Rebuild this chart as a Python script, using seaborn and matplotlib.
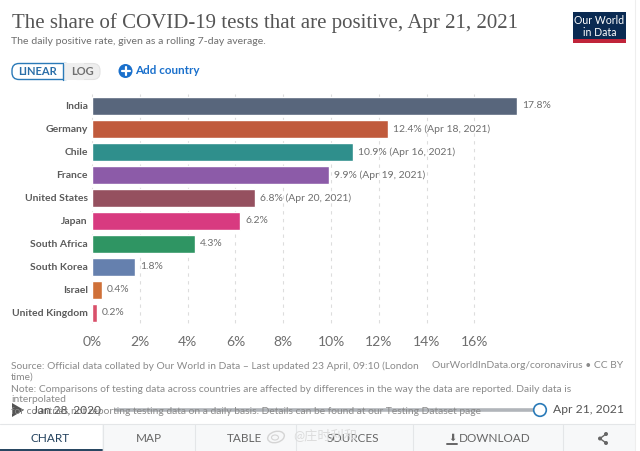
import matplotlib
matplotlib.use('Agg')
import matplotlib.pyplot as plt
import pandas as pd
import seaborn as sns
from matplotlib.patches import Circle, Ellipse, FancyBboxPatch, Rectangle

countries = ['India', 'Germany', 'Chile', 'France', 'United States', 'Japan',
             'South Africa', 'South Korea', 'Israel', 'United Kingdom']
positive_rate = [17.8, 12.4, 10.9, 9.9, 6.8, 6.2, 4.3, 1.8, 0.4, 0.2]
value_labels = ['17.8%', '12.4% (Apr 18, 2021)', '10.9% (Apr 16, 2021)', '9.9% (Apr 19, 2021)',
                '6.8% (Apr 20, 2021)', '6.2%', '4.3%', '1.8%', '0.4%', '0.2%']
bar_colors = ['#58667c', '#c05a3c', '#2f8f8c', '#8c5ba8', '#95505f', '#d83a80',
              '#2f9563', '#6580ae', '#cf7038', '#d9506a']
x_ticks = [0, 2, 4, 6, 8, 10, 12, 14, 16]

GREY = '#6e6e6e'
W, H = 640, 451

sns.set_theme(style='white')
plt.rcParams['font.family'] = ['Lato', 'Noto Sans CJK SC', 'DejaVu Sans']

fig = plt.figure(figsize=(6.4, 4.51), dpi=100)

# chart area placed in pixels: x=0 at 92px, 23.9px per percent, rows 23px high
ax = fig.add_axes([92 / W, 1 - 324.5 / H, 432 / W, 230 / H])
data = pd.DataFrame({'country': countries, 'rate': positive_rate})
sns.barplot(data=data, x='rate', y='country', hue='country', palette=bar_colors,
            legend=False, width=0.79, saturation=1, ax=ax, zorder=3)
ax.set_xlim(0, 432 / 23.9)
ax.set_ylim(9.5, -0.5)
ax.set_xlabel('')
ax.set_ylabel('')
for s in ax.spines.values():
    s.set_visible(False)
ax.patch.set_alpha(0)
ax.set_xticks(x_ticks)
ax.set_xticklabels([f'{t}%' for t in x_ticks], fontsize=10, color=GREY)
ax.tick_params(axis='x', length=0, pad=8.5)
ax.tick_params(axis='y', length=0, pad=3)
for label in ax.get_yticklabels():
    label.set_fontsize(7.5)
    label.set_fontweight('bold')
    label.set_color('#5b5b5b')
for t in x_ticks:
    ax.plot([t, t], [-0.5, 9.6], color='#dddddd', lw=0.8, ls=(0, (3, 4)), zorder=1, clip_on=False)
for i, (v, lab) in enumerate(zip(positive_rate, value_labels)):
    ax.annotate(lab, (v, i), xytext=(3.6, 0), textcoords='offset points', va='center',
                fontsize=7.45, color=GREY)

# page furniture, drawn in pixel coordinates
ui = fig.add_axes([0, 0, 1, 1], zorder=5)
ui.set_xlim(0, W)
ui.set_ylim(H, 0)
ui.axis('off')

ui.text(12, 23, 'The share of COVID-19 tests that are positive, Apr 21, 2021', fontsize=15,
        family='Liberation Serif', color='#555555', va='center')
ui.text(11, 41.5, 'The daily positive rate, given as a rolling 7-day average.', fontsize=7.55,
        color=GREY, va='center')

# logo
ui.add_patch(Rectangle((573, 12), 53, 27, color='#0a2a52', lw=0))
ui.add_patch(Rectangle((573, 39), 53, 3.5, color='#c0243a', lw=0))
ui.text(599.5, 20.5, 'Our World', fontsize=7.6, color='white', ha='center', va='center')
ui.text(599.5, 32, 'in Data', fontsize=7.6, color='white', ha='center', va='center')

# linear/log toggle
ui.add_patch(FancyBboxPatch((12, 63.5), 60, 16, boxstyle='round,pad=0,rounding_size=7',
                            fc='white', ec='#2a7ab8', lw=1))
ui.add_patch(FancyBboxPatch((70, 63.5), 30, 16, boxstyle='round,pad=0,rounding_size=7',
                            fc='#eeeeee', ec='#e2e2e2', lw=0.8))
ui.add_patch(Rectangle((63.5, 63), 20, 17, fc='#eeeeee', ec='none'))
ui.plot([63, 63], [63.5, 79.5], color='#2a7ab8', lw=1)
ui.text(37.5, 71.5, 'LINEAR', fontsize=8, fontweight='bold', color='#2a6ea8', ha='center', va='center')
ui.text(82, 71.5, 'LOG', fontsize=8, fontweight='bold', color='#707070', ha='center', va='center')

# add country
ui.add_patch(Circle((125.5, 71), 7, color='#1a70cc', lw=0))
ui.plot([121.5, 129.5], [71, 71], color='white', lw=1.6)
ui.plot([125.5, 125.5], [67, 75], color='white', lw=1.6)
ui.text(135, 71, 'Add country', fontsize=8.4, fontweight='bold', color='#1a70cc', va='center')

# footer notes
foot = '#8a8a8a'
ui.text(11, 366, 'Source: Official data collated by Our World in Data – Last updated 23 April, 09:10 (London',
        fontsize=7.35, color=foot, va='center')
ui.text(432, 366, 'OurWorldInData.org/coronavirus • CC BY', fontsize=7.35, color=foot, va='center')
ui.text(11, 377.5, 'time)', fontsize=7.35, color=foot, va='center')
ui.text(11, 389, 'Note: Comparisons of testing data across countries are affected by differences in the way the data are reported. Daily data is',
        fontsize=7.35, color=foot, va='center')
ui.text(11, 400, 'interpolated', fontsize=7.35, color=foot, va='center')
ui.text(11, 411, 'for countries not reporting testing data on a daily basis. Details can be found at our Testing Dataset page',
        fontsize=7.35, color=foot, va='center')

# timeline slider over the notes
ui.plot([116, 540], [409.5, 409.5], color='#a9adb3', lw=2.6, alpha=0.9)
ui.fill([12, 12, 24], [403, 417, 410], color='#555555', lw=0)
ui.text(33, 409.5, 'Jan 28, 2020', fontsize=8.6, color='#555555', va='center')
ui.add_patch(Circle((540, 410), 6.3, fc='white', ec='#2a7ab8', lw=1.2, zorder=4))
ui.text(553, 409.5, 'Apr 21, 2021', fontsize=8.7, color='#555555', va='center')

# tab bar
ui.add_patch(Rectangle((102, 424), 533, 27, fc='#f7f8f9', ec='none', zorder=0))
ui.plot([0, 635], [424, 424], color='#e4e6e8', lw=0.8)
for x in [102.5, 194.5, 295.5, 412.5, 562.5]:
    ui.plot([x, x], [424, 451], color='#e4e6e8', lw=0.8)
ui.plot([0, 102], [450.2, 450.2], color='#24425e', lw=1.4)
ui.plot([635, 635], [0, 451], color='#eeeeee', lw=0.8)
tab_y = 439
ui.text(50, tab_y, 'CHART', fontsize=8.5, color='#24425e', ha='center', va='center')
ui.text(148.5, tab_y, 'MAP', fontsize=8.5, color='#666666', ha='center', va='center')
ui.text(244.5, tab_y, 'TABLE', fontsize=8.5, color='#666666', ha='center', va='center')
ui.text(353, tab_y, 'SOURCES', fontsize=8.5, color='#666666', ha='center', va='center')
ui.text(495, tab_y, 'DOWNLOAD', fontsize=8.5, color='#666666', ha='center', va='center')
ui.text(452, tab_y - 1, '⬇', fontsize=7, color='#666666', ha='center', va='center', family='DejaVu Sans')
ui.plot([447, 457], [443.5, 443.5], color='#666666', lw=1.4)
# share icon
ui.plot([606, 600, 606], [434, 438.5, 443], color='#666666', lw=1)
for cx, cy in [(606, 434), (600, 438.5), (606, 443)]:
    ui.add_patch(Circle((cx, cy), 2, color='#666666', lw=0))

# faint watermark
ui.add_patch(Ellipse((276, 437), 17, 11, angle=-15, fc='none', ec='#d4d4d4', lw=1))
ui.add_patch(Ellipse((275, 437.5), 7, 5, fc='none', ec='#d4d4d4', lw=0.8))
ui.text(293, 436, '@庄时利和', fontsize=9.5, color='#dcdcdc', ha='left', va='center')

fig.savefig('out.png', dpi=100)
